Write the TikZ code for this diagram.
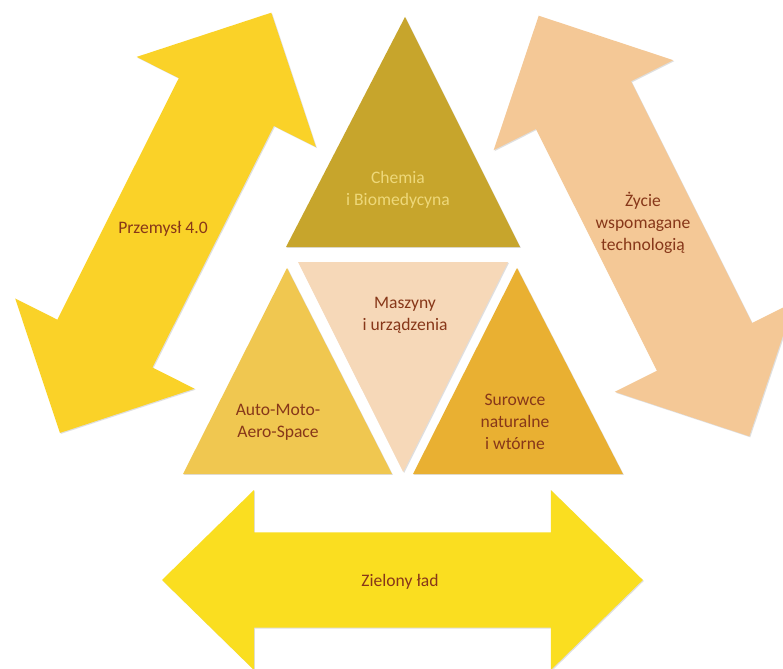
\documentclass[tikz,border=0pt]{standalone}
\usepackage{fontspec}
\setmainfont{Carlito}
\usetikzlibrary{shadows}

\definecolor{chemfill}{RGB}{199,165,44}
\definecolor{maszfill}{RGB}{246,216,184}
\definecolor{autofill}{RGB}{240,199,80}
\definecolor{surfill}{RGB}{233,176,50}
\definecolor{przfill}{RGB}{250,210,40}
\definecolor{zycfill}{RGB}{244,200,150}
\definecolor{zielfill}{RGB}{250,222,32}
\definecolor{txtred}{RGB}{135,55,25}
\definecolor{txtpale}{RGB}{238,216,122}

\begin{document}
\begin{tikzpicture}[
  sh/.style={drop shadow={shadow xshift=0.7pt, shadow yshift=-0.7pt, opacity=0.25}},
  lbl/.style={align=center, text=txtred, font=\fontsize{12.5}{15.5}\selectfont}
]
\fill[white] (0,0) rectangle (19.575,16.7);
\clip (0,0) rectangle (19.575,16.7);

% arrows
\begin{scope}[shift={(4.14,11.13)}, rotate=63.3]
\fill[przfill, sh] (5.88,0) -- (3.38,2.51) -- (3.38,1.33) -- (-3.38,1.33) -- (-3.38,2.51)
  -- (-5.88,0) -- (-3.38,-2.51) -- (-3.38,-1.33) -- (3.38,-1.33) -- (3.38,-2.51) -- cycle;
\end{scope}
\begin{scope}[shift={(16.1,11.05)}, rotate=116.6]
\fill[zycfill, sh] (5.88,0) -- (3.38,2.51) -- (3.38,1.33) -- (-3.38,1.33) -- (-3.38,2.51)
  -- (-5.88,0) -- (-3.38,-2.51) -- (-3.38,-1.33) -- (3.38,-1.33) -- (3.38,-2.51) -- cycle;
\end{scope}
\begin{scope}[shift={(10.06,2.2)}]
\fill[zielfill, sh] (6.01,0) -- (3.71,2.25) -- (3.71,1.19) -- (-3.71,1.19) -- (-3.71,2.25)
  -- (-6.01,0) -- (-3.71,-2.25) -- (-3.71,-1.19) -- (3.71,-1.19) -- (3.71,-2.25) -- cycle;
\end{scope}

% triangles
\fill[chemfill, sh] (10.125,16.275) -- (7.15,10.525) -- (13.0,10.525) -- cycle;
\fill[maszfill, sh] (7.45,10.15) -- (12.7,10.15) -- (10.08,4.9) -- cycle;
\fill[autofill, sh] (7.175,10.0) -- (4.575,4.85) -- (9.8,4.85) -- cycle;
\fill[surfill, sh] (12.925,10.0) -- (10.325,4.85) -- (15.575,4.85) -- cycle;

% labels
\node[lbl, text=txtpale] (chem) at (9.95,11.95) {Chemia\\i Biomedycyna};
\node[lbl] (masz) at (10.125,8.825) {Maszyny\\i urządzenia};
\node[lbl] (auto) at (6.95,6.15) {Auto-Moto-\\Aero-Space};
\node[lbl] (sur) at (12.875,6.15) {Surowce\\naturalne\\i wtórne};
\node[lbl] (prz) at (4.075,10.99) {Przemysł 4.0};
\node[lbl] (zyc) at (16.075,11.125) {Życie\\wspomagane\\technologią};
\node[lbl] (ziel) at (10.0,2.15) {Zielony ład};
\end{tikzpicture}
\end{document}
